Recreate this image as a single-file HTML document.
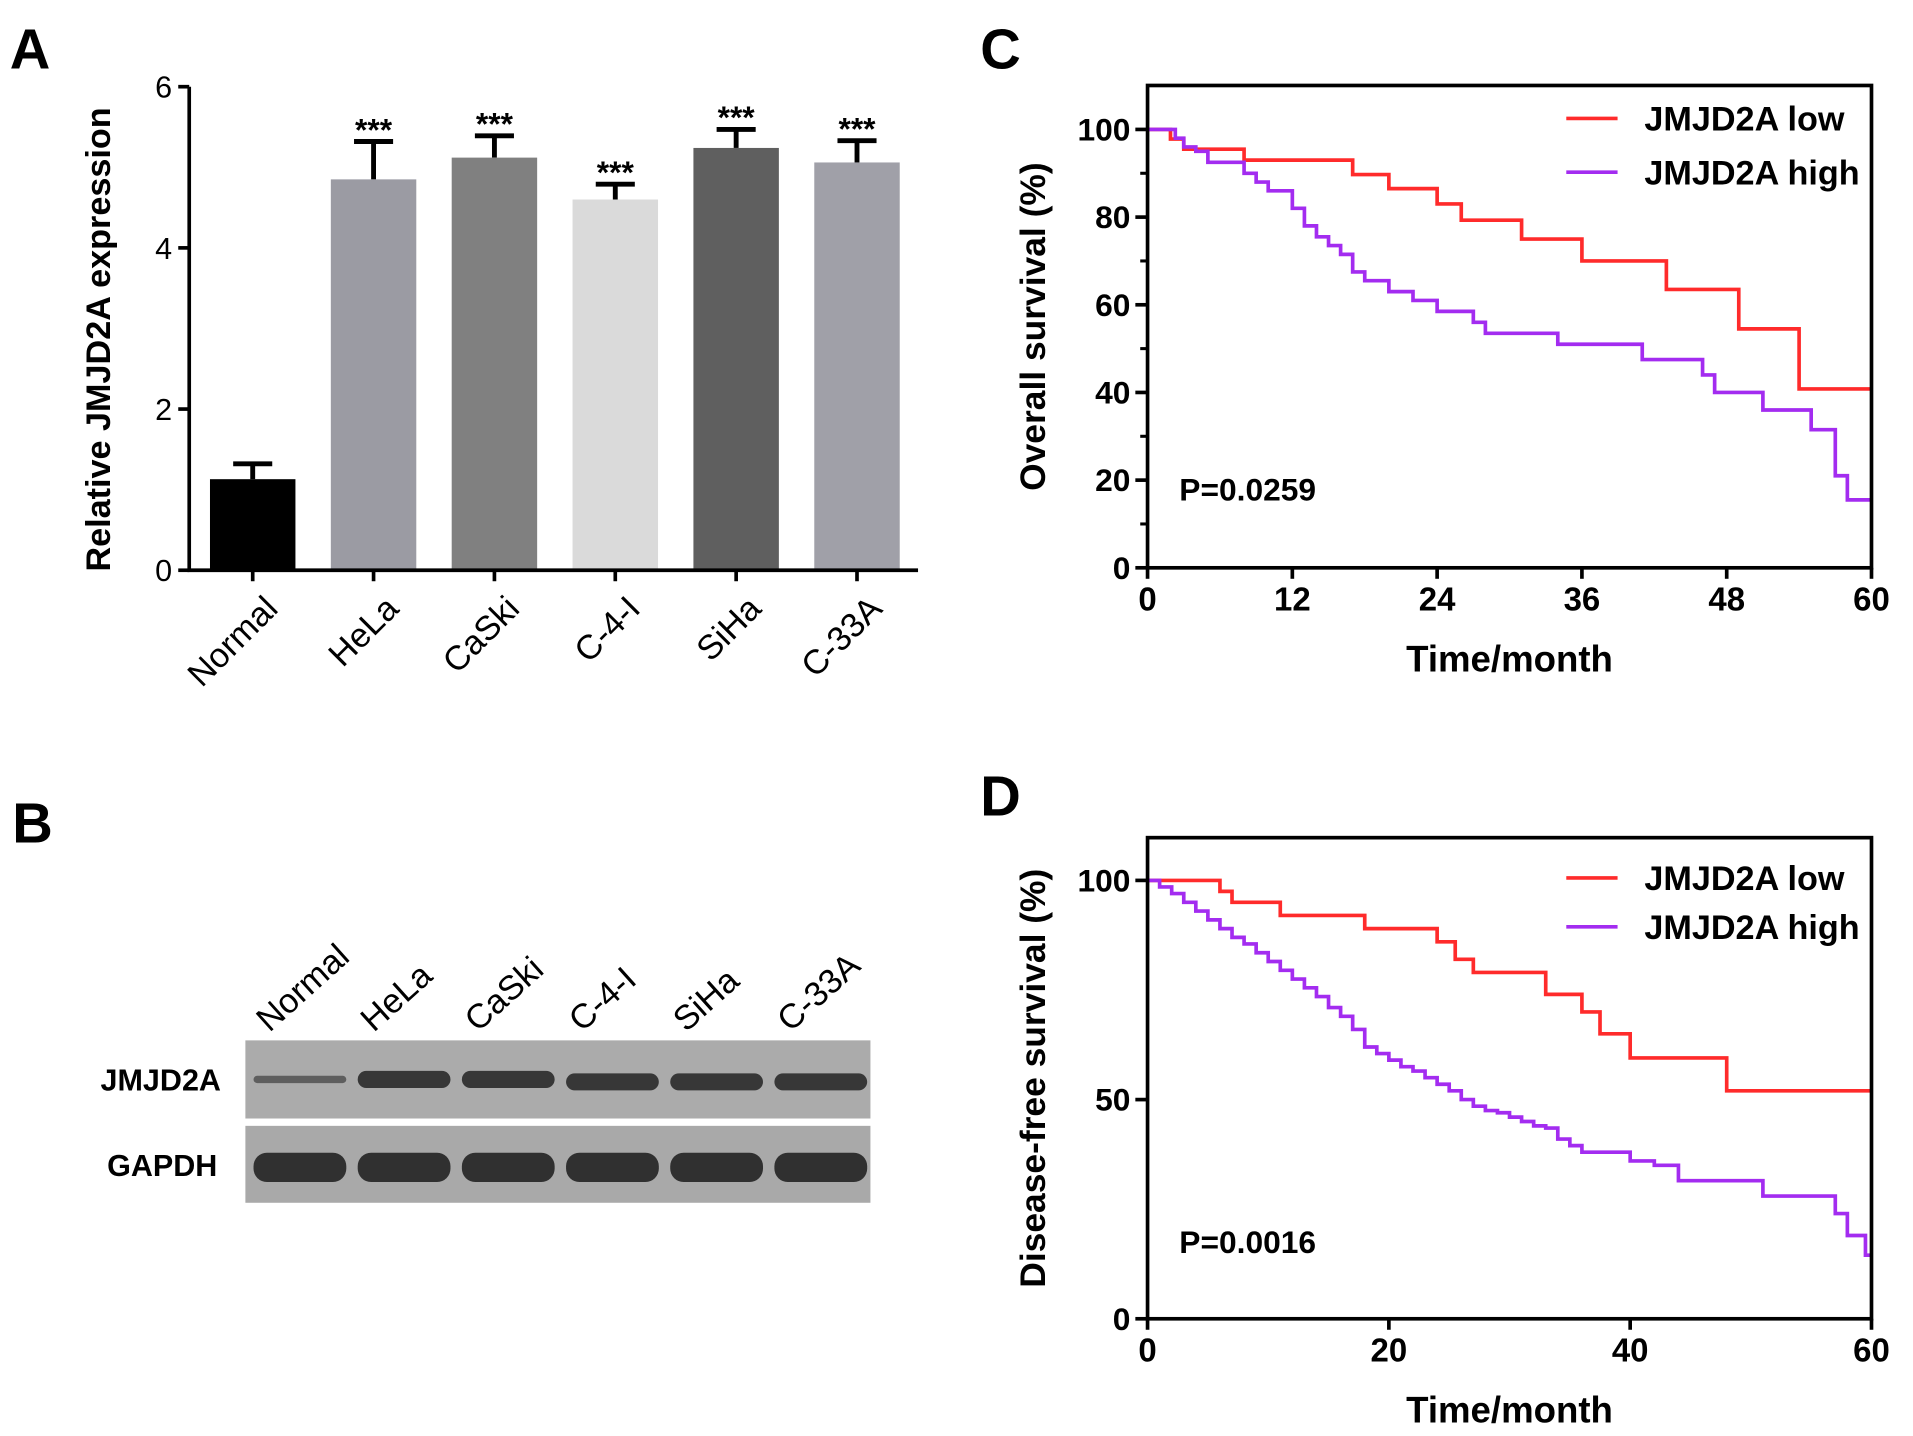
<!DOCTYPE html>
<html><head><meta charset="utf-8"><style>
html,body{margin:0;padding:0;background:#fff;}
svg{display:block;font-family:"Liberation Sans",Arial,sans-serif;}
</style></head><body>
<svg id="fig" width="1913" height="1436" viewBox="0 0 1567 1176" preserveAspectRatio="none" xmlns="http://www.w3.org/2000/svg">
<g font-weight="bold" font-size="46">
<text x="8" y="56">A</text>
<text x="10" y="690">B</text>
<text x="803" y="56">C</text>
<text x="803" y="668">D</text>
</g>
<g id="pa"></g>
<g id="pb"></g>
<g id="pc"></g>
<g id="pd"></g>
</svg>
<script>
const barCats=["Normal","HeLa","CaSki","C-4-I","SiHa","C-33A"];
const barVals=[1.13,4.85,5.12,4.6,5.24,5.06];
const barErrs=[0.19,0.47,0.27,0.19,0.23,0.27];
const barStars=["","***","***","***","***","***"];
const yTicksA=[0,2,4,6];
const barColors=["#000000","#9b9ba3","#808080","#dadada","#5f5f5f","#a0a0a8"];

const cLowT=[0,1.9,3,8,17,20,24,26,31,36,43,49,54,60];
const cLowS=[100,97.8,95.5,93,89.7,86.5,83,79.3,75,70,63.5,54.5,40.8,40.8];
const cHighT=[0,2.3,3,4,5,8,9,10,12,13,14,15,16,17,18,20,22,24,27,28,34,41,46,47,51,55,57,58,60];
const cHighS=[100,98,96,95,92.5,90,88,86,82,78,75.5,73.5,71.5,67.5,65.5,63,61,58.5,56,53.5,51,47.5,44,40,36,31.5,21,15.5,15.5];
const cXTicks=[0,12,24,36,48,60];
const cYTicks=[0,20,40,60,80,100];

const dLowT=[0,6,7,11,18,24,25.5,27,33,36,37.5,40,48,60];
const dLowS=[100,97.5,95,92,89,86,82,79,74,70,65,59.5,52,52];
const dHighT=[0,1,2,3,4,5,6,7,8,9,10,11,12,13,14,15,16,17,18,19,20,21,22,23,24,25,26,27,28,29,30,31,32,33,34,35,36,40,42,44,51,57,58,59.5,60];
const dHighS=[100,98.5,97,95,93,91,89,87,85.5,83.5,81.5,79.5,77.5,75.5,73.5,71,69,66,62,60.5,59,57.5,56.5,55,53.5,52,50,48.5,47.5,47,46,45,44,43.5,41,39.5,38,36,35,31.5,28,24,19,14.5,14.5];
const dXTicks=[0,20,40,60];
const dYTicks=[0,50,100];

const NS="http://www.w3.org/2000/svg";
function mk(parent,tag,attrs,text){const e=document.createElementNS(NS,tag);for(const k in attrs)e.setAttribute(k,attrs[k]);if(text!==undefined)e.textContent=text;parent.appendChild(e);return e;}

// Panel A
(function(){
const g=document.getElementById('pa');
const x0=155,x1=752,yb=467,yt=71,ymax=6;
const ys=v=>yb-(v/ymax)*(yb-yt);
const step=99,first=207,bw=70;
const xs=i=>first+i*step;
barVals.forEach((v,i)=>{
 const cx=xs(i);
 const ey=ys(v+barErrs[i]);
 let l=mk(g,'line',{x1:cx,x2:cx,y1:ys(v),y2:ey,stroke:'#000','stroke-width':4});
 
 
 let c=mk(g,'line',{x1:cx-16,x2:cx+16,y1:ey,y2:ey,stroke:'#000','stroke-width':4});
 
 
 let r=mk(g,'rect',{x:cx-bw/2,y:ys(v),width:bw,height:yb-ys(v),fill:barColors[i]});
 
 
 if(barStars[i]){let s=mk(g,'text',{x:cx,y:ey-1,'text-anchor':'middle','font-size':26,'font-weight':'bold'},barStars[i]);
 
 }
 let t=mk(g,'text',{x:0,y:0,'text-anchor':'end','font-size':28,transform:`translate(${cx+22},${500}) rotate(-45)`},barCats[i]);
 
 
});
let ax=mk(g,'path',{d:`M${x0},${yt} V${yb} H${x1}`,fill:'none',stroke:'#000','stroke-width':3});

barCats.forEach((c,i)=>{mk(g,'line',{x1:xs(i),x2:xs(i),y1:yb,y2:yb+9,stroke:'#000','stroke-width':3});});
yTicksA.forEach(v=>{
 mk(g,'line',{x1:x0-9,x2:x0,y1:ys(v),y2:ys(v),stroke:'#000','stroke-width':3});
 let t=mk(g,'text',{x:x0-14,y:ys(v)+9,'text-anchor':'end','font-size':25},String(v));
 
});
let yt2=mk(g,'text',{x:0,y:0,'text-anchor':'middle','font-size':28,'font-weight':'bold',transform:'translate(90,278) rotate(-90)'},'Relative JMJD2A expression');

})();

// Panel B
(function(){
const g=document.getElementById('pb');
const lanes=barCats;
const bx=201,bw=512;
let s1=mk(g,'rect',{x:bx,y:852,width:bw,height:64,fill:'#ababab'});

let s2=mk(g,'rect',{x:bx,y:922,width:bw,height:63,fill:'#a9a9a9'});

const lw=bw/6;
lanes.forEach((c,i)=>{
 const cx=bx+lw*(i+0.5)+2;
 let b1=mk(g,'rect',{x:cx-38,y:(i==0?881:877)+(i>=3?2:0),width:76,height:i==0?6:14,rx:i==0?3:7,fill:i==0?'#555':'#2a2a2a',opacity:0.9});
 
 let b2=mk(g,'rect',{x:cx-38,y:944,width:76,height:24,rx:11,fill:'#262626',opacity:0.92});
 
 let t=mk(g,'text',{x:0,y:0,'font-size':28,transform:`translate(${cx-25},${846}) rotate(-42)`},c);
 
});
let l1=mk(g,'text',{x:181,y:893,'text-anchor':'end','font-size':25,'font-weight':'bold'},'JMJD2A');

let l2=mk(g,'text',{x:178,y:963,'text-anchor':'end','font-size':25,'font-weight':'bold'},'GAPDH');

})();

function km(g,cfg){
 const {x0,x1,yb,y100,ytop,xmax,xticks,yticks,minor,series,ylabel,p,py,legY,pre}=cfg;
 const xs=t=>x0+t/xmax*(x1-x0);
 const ys=v=>yb-v/100*(yb-y100);
 series.forEach(s=>{
  let d=`M${xs(s.t[0])},${ys(s.s[0])}`;
  for(let i=1;i<s.t.length;i++){d+=` H${xs(s.t[i])} V${ys(s.s[i])}`;}
  let p1=mk(g,'path',{d:d,fill:'none',stroke:s.color,'stroke-width':3});
  
 });
 let fr=mk(g,'rect',{x:x0,y:ytop,width:x1-x0,height:yb-ytop,fill:'none',stroke:'#000','stroke-width':3});
 
 xticks.forEach(v=>{
  mk(g,'line',{x1:xs(v),x2:xs(v),y1:yb,y2:yb+9,stroke:'#000','stroke-width':3});
  let t=mk(g,'text',{x:xs(v),y:yb+35,'text-anchor':'middle','font-size':27,'font-weight':'bold'},String(v));
  
 });
 minor.forEach(v=>{mk(g,'line',{x1:x0-6,x2:x0,y1:ys(v),y2:ys(v),stroke:'#000','stroke-width':2.5});});
 yticks.forEach(v=>{
  mk(g,'line',{x1:x0-10,x2:x0,y1:ys(v),y2:ys(v),stroke:'#000','stroke-width':3});
  let t=mk(g,'text',{x:x0-14,y:ys(v)+9,'text-anchor':'end','font-size':26,'font-weight':'bold'},String(v));
  
 });
 let xl=mk(g,'text',{x:(x0+x1)/2,y:yb+85,'text-anchor':'middle','font-size':30,'font-weight':'bold'},'Time/month');
 
 let yl=mk(g,'text',{x:0,y:0,'text-anchor':'middle','font-size':29,'font-weight':'bold',transform:`translate(856,${(yb+ytop)/2}) rotate(-90)`},ylabel);
 
 let pt=mk(g,'text',{x:966,y:py,'font-size':26,'font-weight':'bold'},p);
 
 series.forEach((s,i)=>{
  const y=legY[i];
  let ll=mk(g,'line',{x1:1283,x2:1325,y1:y,y2:y,stroke:s.color,'stroke-width':3});
  
  let lt=mk(g,'text',{x:1347,y:y+10,'font-size':28,'font-weight':'bold'},s.label);
  
 });
}
km(document.getElementById('pc'),{x0:940,x1:1533,yb:465,y100:106,ytop:70,xmax:60,xticks:cXTicks,yticks:cYTicks,minor:[10,30,50,70,90],
 series:[{key:'low',t:cLowT,s:cLowS,color:'#ff2b2b',label:'JMJD2A low'},{key:'high',t:cHighT,s:cHighS,color:'#a32cf0',label:'JMJD2A high'}],
 ylabel:'Overall survival (%)',p:'P=0.0259',py:410,legY:[97,141],pre:'c'});
km(document.getElementById('pd'),{x0:940,x1:1533,yb:1080,y100:721,ytop:686,xmax:60,xticks:dXTicks,yticks:dYTicks,minor:[],
 series:[{key:'low',t:dLowT,s:dLowS,color:'#ff2b2b',label:'JMJD2A low'},{key:'high',t:dHighT,s:dHighS,color:'#a32cf0',label:'JMJD2A high'}],
 ylabel:'Disease-free survival (%)',p:'P=0.0016',py:1026,legY:[719,759],pre:'d'});
</script>
</body></html>
